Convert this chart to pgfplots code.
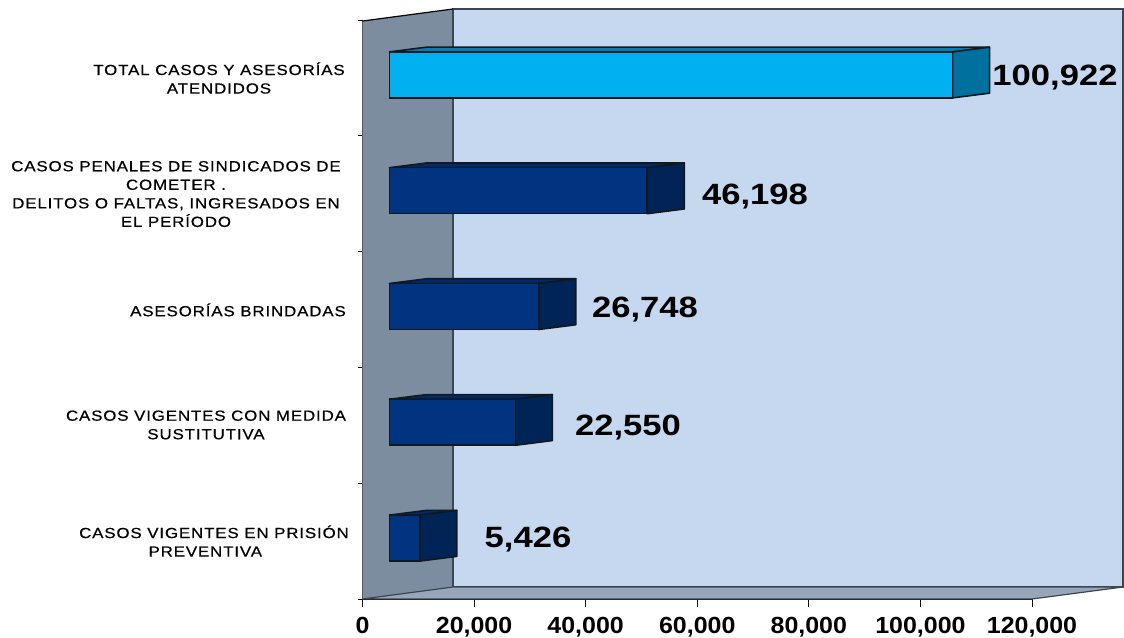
\documentclass[border=0pt]{standalone}
\usepackage{fontspec}
\usepackage{pgfplots}
\pgfplotsset{compat=1.18}
\setmainfont{Liberation Sans}
\newfontfamily\valfont[FakeStretch=1.18]{Liberation Sans Bold}
\newfontfamily\tickfamily[FakeStretch=1.07]{Liberation Sans Bold}
\newfontfamily\catfont[FakeStretch=1.15,LetterSpace=6,FakeBold=0.6]{Liberation Sans}
\definecolor{wall}{HTML}{7B8D9E}
\definecolor{back}{HTML}{C6D8F0}
\definecolor{floorc}{HTML}{97A6B8}
\definecolor{cyanF}{HTML}{00B0F0}
\definecolor{cyanS}{HTML}{00709F}
\definecolor{cyanT}{HTML}{0082B8}
\definecolor{navyF}{HTML}{003380}
\definecolor{navyS}{HTML}{002456}
\definecolor{navyT}{HTML}{002A6C}
\definecolor{edge}{HTML}{101820}
\definecolor{wedge}{HTML}{3C4650}
\begin{document}
\begin{tikzpicture}
\useasboundingbox (-271.875pt,-29.25pt) rectangle (571.125pt,449.25pt);
\begin{axis}[
  at={(0,0)}, anchor=south west,
  scale only axis, width=502.125pt, height=434.25pt,
  xmin=0, xmax=120000, ymin=0, ymax=5,
  clip=false,
  axis x line=bottom, axis y line=left,
  axis line style={-, black, line width=1.1pt},
  xtick={0,20000,40000,60000,80000,100000,120000},
  ytick={0,1,2,3,4,5},
  yticklabels={},
  scaled x ticks=false,
  major tick length=6pt,
  ytick style={/pgfplots/major tick length=3.5pt, black, line width=0.7pt},
  xtick style={black, line width=0.7pt},
  tick align=outside,
  xticklabel style={font=\tickfamily\fontsize{17.5}{20}\selectfont, inner ysep=0pt, yshift=-7.6pt,
    /pgf/number format/.cd, fixed, 1000 sep={,}, assume math mode=true},
]
% back wall, side wall, floor
\addplot[fill=back, draw=wedge, line width=0.9pt, forget plot] coordinates {(16222,0.1036)(136314,0.1036)(136314,5.095)(16222,5.095)} -- cycle;
\addplot[fill=wall, draw=none, forget plot] coordinates {(0,0)(16222,0.1036)(16222,5.095)(0,4.991)} -- cycle;
\addplot[draw=wedge, line width=0.9pt, forget plot] coordinates {(16222,0.1036)(16222,5.095)};
\addplot[draw=black, line width=0.9pt, forget plot] coordinates {(0,4.991)(16222,5.095)};
\addplot[fill=floorc, draw=wedge, line width=0.9pt, forget plot] coordinates {(0,0)(120000,0)(136314,0.1036)(16222,0.1036)} -- cycle;
% right and top faces of the bars: v+4840, +6632 in depth
\pgfplotsset{face/.style={draw=edge, line width=1.2pt, line join=round, forget plot}}
\addplot[face, fill=cyanT] coordinates {(4840,4.7246)(105762,4.7246)(112394,4.7652)(11472,4.7652)} -- cycle;
\addplot[face, fill=cyanS] coordinates {(105762,4.3274)(112394,4.368)(112394,4.7652)(105762,4.7246)} -- cycle;
\addplot[face, fill=navyT] coordinates {(4840,3.7246)(51038,3.7246)(57670,3.7652)(11472,3.7652)} -- cycle;
\addplot[face, fill=navyS] coordinates {(51038,3.3274)(57670,3.368)(57670,3.7652)(51038,3.7246)} -- cycle;
\addplot[face, fill=navyT] coordinates {(4840,2.7246)(31588,2.7246)(38220,2.7652)(11472,2.7652)} -- cycle;
\addplot[face, fill=navyS] coordinates {(31588,2.3274)(38220,2.368)(38220,2.7652)(31588,2.7246)} -- cycle;
\addplot[face, fill=navyT] coordinates {(4840,1.7246)(27390,1.7246)(34022,1.7652)(11472,1.7652)} -- cycle;
\addplot[face, fill=navyS] coordinates {(27390,1.3274)(34022,1.368)(34022,1.7652)(27390,1.7246)} -- cycle;
\addplot[face, fill=navyT] coordinates {(4840,0.7246)(10266,0.7246)(16898,0.7652)(11472,0.7652)} -- cycle;
\addplot[face, fill=navyS] coordinates {(10266,0.3274)(16898,0.368)(16898,0.7652)(10266,0.7246)} -- cycle;
% front faces
\addplot[xbar, bar shift=0pt, bar width=34.5pt, xshift=20.25pt, fill=navyF, draw=edge, line width=1.2pt, forget plot]
  coordinates {(5426,0.526)(22550,1.526)(26748,2.526)(46198,3.526)};
\addplot[xbar, bar shift=0pt, bar width=34.5pt, xshift=20.25pt, fill=cyanF, draw=edge, line width=1.2pt, forget plot]
  coordinates {(100922,4.526)};
% value labels
\tikzset{val/.style={font=\valfont\fontsize{22}{24}\selectfont, text=black, yshift=-2pt}}
\node[val] at (axis cs:124130,4.525) {100,922};
\node[val] at (axis cs:70353,3.497) {46,198};
\node[val] at (axis cs:50636,2.522) {26,748};
\node[val] at (axis cs:47589,1.503) {22,550};
\node[val] at (axis cs:29665,0.535) {5,426};
% category labels
\tikzset{cat/.style={font=\catfont\fontsize{11}{13.9}\selectfont, align=center, inner sep=0pt, text=black}}
\node[cat] at (axis cs:-25721,4.499) {TOTAL CASOS Y ASESORÍAS\\ATENDIDOS};
\node[cat] at (axis cs:-33429,3.497) {CASOS PENALES DE SINDICADOS DE\\COMETER .\\DELITOS O FALTAS, INGRESADOS EN\\EL PERÍODO};
\node[cat] at (axis cs:-22315,2.496) {ASESORÍAS BRINDADAS};
\node[cat] at (axis cs:-28052,1.503) {CASOS VIGENTES CON MEDIDA\\SUSTITUTIVA};
\node[cat] at (axis cs:-26618,0.501) {CASOS VIGENTES EN PRISIÓN\\\hspace*{-13pt}PREVENTIVA};
\end{axis}
\end{tikzpicture}
\end{document}
